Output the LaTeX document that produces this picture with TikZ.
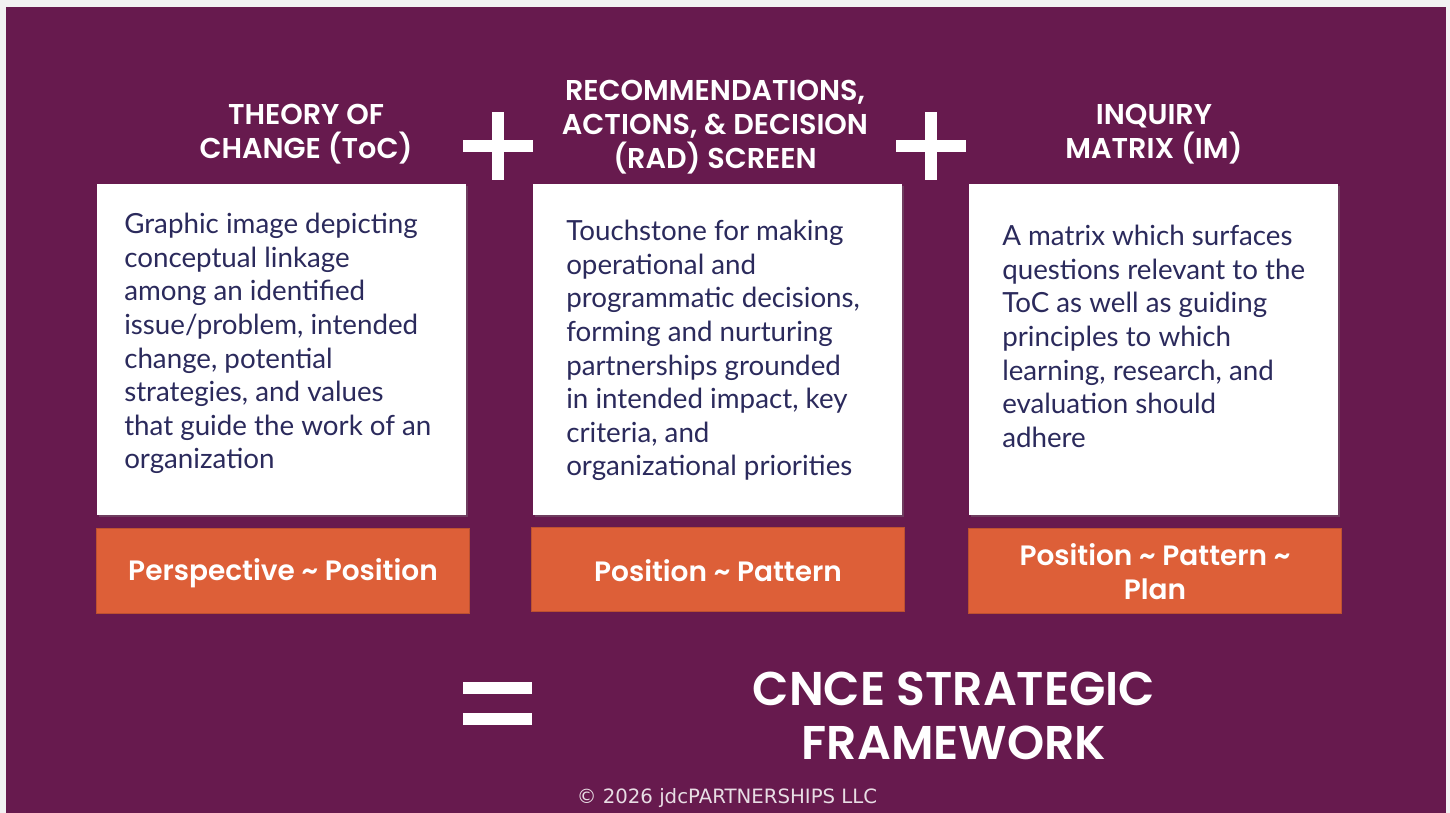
\documentclass[tikz,border=0pt]{standalone}
\usepackage{fontspec}
\setmainfont{Lato}
\newfontfamily\headfont{Poppins}[BoldFont={Poppins SemiBold}]
\newfontfamily\notefont{DejaVu Sans}
\usetikzlibrary{shadows}
\definecolor{plum}{HTML}{671A4E}
\definecolor{rust}{HTML}{DD5F38}
\definecolor{ink}{HTML}{2B2A5C}
\definecolor{pagegray}{HTML}{F2F2F2}
\begin{document}
\begin{tikzpicture}[x=0.75pt,y=-0.75pt,
    card/.style={fill=white,drop shadow={shadow xshift=1.5pt,shadow yshift=-1.5pt,opacity=.35}},
    tag/.style={fill=rust,draw=rust!85!black,line width=.4pt},
    heading/.style={text=white,inner sep=0pt,align=center,
      font=\headfont\bfseries\fontsize{21.5}{25.5}\selectfont},
    cardtext/.style={text=ink,inner sep=0pt,align=left,anchor=north west,
      font=\fontsize{20.8}{25.2}\selectfont},
    tagtext/.style={text=white,inner sep=0pt,align=center,
      font=\headfont\bfseries\fontsize{21}{25.5}\selectfont}]
  % page and background
  \fill[pagegray] (0,0) rectangle (1450,813);
  \fill[plum] (6,7) rectangle (1446,813);
  % headings
  \node[heading] (tochead) at (306,134) {THEORY OF\\CHANGE (ToC)};
  \node[heading] (radhead) at (715,127) {RECOMMENDATIONS,\\ACTIONS, \& DECISION\\(RAD) SCREEN};
  \node[heading] (imhead) at (1154,134) {INQUIRY\\MATRIX (IM)};
  % plus signs
  \foreach \cx in {498,931}{
    \fill[white] (\cx-35,140) rectangle (\cx+35,152);
    \fill[white] (\cx-6,112) rectangle (\cx+6,180);
  }
  % cards
  \fill[card] (97,184) rectangle (466,515);
  \fill[card] (533,184) rectangle (902,515);
  \fill[card] (969,184) rectangle (1338,515);
  \node[cardtext] (toctext) at (124,213) {Graphic image depicting\\conceptual linkage\\among an identified\\issue/problem, intended\\change, potential\\strategies, and values\\that guide the work of an\\organization};
  \node[cardtext] (radtext) at (566,220) {Touchstone for making\\operational and\\programmatic decisions,\\forming and nurturing\\partnerships grounded\\in intended impact, key\\criteria, and\\organizational priorities};
  \node[cardtext] (imtext) at (1002,225) {A matrix which surfaces\\questions relevant to the\\ToC as well as guiding\\principles to which\\learning, research, and\\evaluation should\\adhere};
  % tags
  \draw[tag] (96,528) rectangle (469,613);
  \draw[tag] (531,527) rectangle (904,611);
  \draw[tag] (968,528) rectangle (1341,613);
  \node[tagtext] (toctag) at (283,573) {Perspective \textasciitilde{} Position};
  \node[tagtext] (radtag) at (718,571) {Position \textasciitilde{} Pattern};
  \node[tagtext] (imtag) at (1155,572) {Position \textasciitilde{} Pattern \textasciitilde{}\\Plan};
  % equals and result
  \fill[white] (463,682) rectangle (532,694);
  \fill[white] (463,713) rectangle (532,725);
  \node[heading,font=\headfont\bfseries\fontsize{35.5}{40.5}\selectfont] (result) at (954,716) {CNCE STRATEGIC\\FRAMEWORK};
  \node[text=white!85!plum,font=\notefont\fontsize{14.8}{17}\selectfont] (copy) at (727,798) {© 2026 jdcPARTNERSHIPS LLC};
\end{tikzpicture}
\end{document}
